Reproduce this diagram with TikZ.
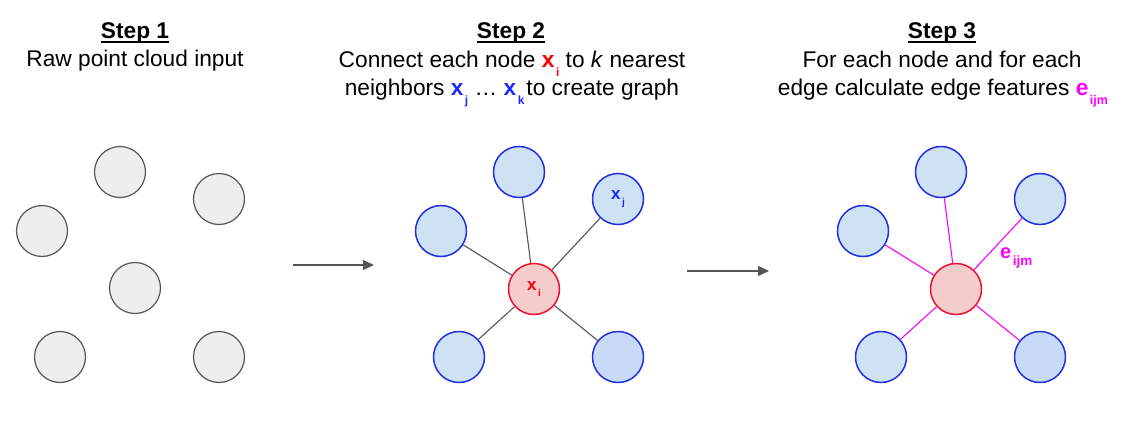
\documentclass[tikz,border=0pt]{standalone}
\usepackage{fontspec}
\setmainfont{Liberation Sans}
\usetikzlibrary{arrows.meta}
\definecolor{grayfill}{HTML}{EEEEEE}
\definecolor{grayline}{HTML}{555555}
\definecolor{bluefill}{HTML}{CFE2F3}
\definecolor{bluefillb}{HTML}{C9DAF8}
\definecolor{blueline}{HTML}{2030E0}
\definecolor{redfill}{HTML}{F4CCCC}
\definecolor{redline}{HTML}{F01030}
\definecolor{xred}{HTML}{FF0000}
\definecolor{xblue}{HTML}{1A2BFF}
\definecolor{xmag}{HTML}{FF00FF}
\definecolor{edgegray}{HTML}{555555}
\newcommand\subx[4]{\textbf{#1}\kern1.5pt\raisebox{-#4}{\fontsize{#3}{#3}\selectfont\textbf{#2}}}
\newcommand\ulbf[1]{\setbox0\hbox{\bfseries #1}\rlap{\rule[-5pt]{\wd0}{2pt}}\box0}
\begin{document}
\begin{tikzpicture}[x=1pt,y=-1pt,
  txt/.style={anchor=base,inner sep=0pt,font=\fontsize{22.7}{27}\selectfont},
  graypt/.style={circle,draw=grayline,fill=grayfill,line width=1.2pt,minimum size=51pt,inner sep=0pt},
  bluept/.style={circle,draw=blueline,fill=bluefill,line width=1.5pt,minimum size=51pt,inner sep=0pt,font=\fontsize{17}{17}\selectfont\color{xblue}},
  bluept2/.style={bluept,fill=bluefillb},
  redpt/.style={circle,draw=redline,fill=redfill,line width=1.5pt,minimum size=51pt,inner sep=0pt,font=\fontsize{17}{17}\selectfont\color{xred}},
  edgeg/.style={draw=edgegray,line width=1.1pt},
  edgem/.style={draw=xmag,line width=1.1pt},
  flow/.style={draw=edgegray,line width=1.4pt,-{Triangle[length=11pt,width=10pt]}}
]
\useasboundingbox (0,0) rectangle (1125,434);

% titles and captions
\node[txt] (h1) at (135,38) {\ulbf{Step 1}};
\node[txt] (h2) at (511,38) {\ulbf{Step 2}};
\node[txt] (h3) at (942,38) {\ulbf{Step 3}};
\node[txt] (s1) at (135,66.5) {Raw point cloud input};
\node[txt] (s2a) at (512,67) {Connect each node \textcolor{xred}{\subx{x}{i}{12}{9pt}} to \textit{k} nearest};
\node[txt] (s2b) at (512,95) {neighbors \textcolor{xblue}{\subx{x}{j}{12}{9pt}} … \textcolor{xblue}{\subx{x}{k}{12}{9pt}}\kern2pt to create graph};
\node[txt] (s3a) at (942,67) {For each node and for each};
\node[txt] (s3b) at (943,95) {edge calculate edge features \textcolor{xmag}{\subx{e}{ijm}{12.5}{9pt}}};

% step 1
\node[graypt] (t1) at (120,172) {};
\node[graypt] (r1) at (219,199) {};
\node[graypt] (l1) at (42,231) {};
\node[graypt] (c1) at (135,288) {};
\node[graypt] (bl1) at (60,357) {};
\node[graypt] (br1) at (219,357) {};

% step 2
\node[bluept] (t2) at (519,172) {};
\node[bluept] (r2) at (618,199) {\subx{x}{j}{10}{6pt}};
\node[bluept] (l2) at (441,231) {};
\node[redpt] (c2) at (534,289) {\subx{x}{i}{10}{6pt}};
\node[bluept] (bl2) at (459,357) {};
\node[bluept2] (br2) at (618,357) {};
\foreach \n in {t2,r2,l2,bl2,br2} \draw[edgeg] (c2) -- (\n);

% step 3
\node[bluept] (t3) at (941,172) {};
\node[bluept] (r3) at (1040,199) {};
\node[bluept] (l3) at (863,231) {};
\node[redpt] (c3) at (956,289) {};
\node[bluept] (bl3) at (881,357) {};
\node[bluept2] (br3) at (1040,357) {};
\foreach \n in {t3,r3,l3,bl3,br3} \draw[edgem] (c3) -- (\n);
\node[anchor=base west,inner sep=0pt,font=\fontsize{20}{20}\selectfont,text=xmag] (eijm) at (1000,258) {\subx{e}{ijm}{13.5}{7pt}};

% arrows
\coordinate (a1s) at (293,265);
\coordinate (a1e) at (374,265);
\coordinate (a2s) at (687,271);
\coordinate (a2e) at (769,271);
\draw[flow] (a1s) -- (a1e);
\draw[flow] (a2s) -- (a2e);
\end{tikzpicture}
\end{document}
